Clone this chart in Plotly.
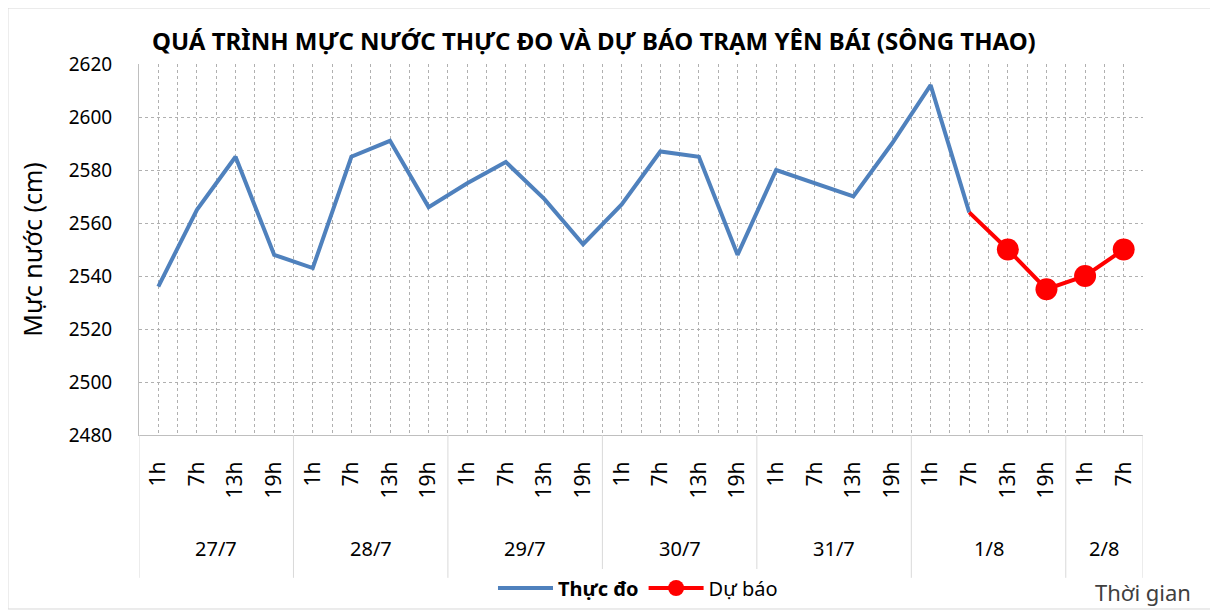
import plotly.graph_objects as go

dates = ["27/7", "28/7", "29/7", "30/7", "31/7", "1/8", "2/8"]
hours_per_date = [["1h", "7h", "13h", "19h"]] * 6 + [["1h", "7h"]]
hour_labels = [h for hs in hours_per_date for h in hs]

observed = [2536, 2565, 2585, 2548,
            2543, 2585, 2591, 2566,
            2575, 2583, 2569, 2552,
            2567, 2587, 2585, 2548,
            2580, 2575, 2570, 2590,
            2612, 2564]
forecast = [2564, 2550, 2535, 2540, 2550]
forecast_start = 21

FONT = "Noto Sans"
x_all = list(range(len(hour_labels)))

fig = go.Figure()
fig.add_trace(go.Scatter(
    x=x_all[:len(observed)], y=observed, mode="lines", name="<b>Thực đo</b>",
    line=dict(color="#4f81bd", width=4),
))
fx = x_all[forecast_start:forecast_start + len(forecast)]
fig.add_trace(go.Scatter(
    x=fx, y=forecast, mode="lines+markers", name="Dự báo",
    line=dict(color="#ff0000", width=4),
    marker=dict(color="#ff0000", opacity=1, line=dict(width=0, color="#ff0000"),
                size=[0] + [22] * (len(forecast) - 1)),
))

# group separators and date labels
bounds = [-0.5]
for hs in hours_per_date:
    bounds.append(bounds[-1] + len(hs))
shapes = []
for b in bounds:
    shapes.append(dict(type="line", xref="x", yref="paper", x0=b, x1=b, y0=0, y1=-0.385,
                       line=dict(color="#d9d9d9", width=1)))
# outer chart border
shapes.append(dict(type="rect", xref="paper", yref="paper", x0=-0.1305, x1=1.0687, y0=-0.469, y1=1.1509,
                   line=dict(color="#d9d9d9", width=1), layer="below"))
annotations = []
for i, d in enumerate(dates):
    cx = (bounds[i] + bounds[i + 1]) / 2
    annotations.append(dict(x=cx, y=-0.307, xref="x", yref="paper", text=d, showarrow=False,
                            font=dict(family=FONT, size=20, color="#000000"),
                            xanchor="center", yanchor="middle"))
annotations.append(dict(x=1.0498, y=-0.423, xref="paper", yref="paper", text="Thời gian", showarrow=False,
                        font=dict(family=FONT, size=22, color="#404040"),
                        xanchor="right", yanchor="middle"))

fig.update_layout(
    width=1210, height=602,
    paper_bgcolor="white", plot_bgcolor="white",
    margin=dict(l=131, r=75, t=56, b=175, autoexpand=False),
    title=dict(text="<b>QUÁ TRÌNH MỰC NƯỚC THỰC ĐO VÀ DỰ BÁO TRẠM YÊN BÁI (SÔNG THAO)</b>",
               x=0.119, xanchor="left", y=0.9435, yanchor="middle",
               font=dict(family=FONT, size=24, color="#000000")),
    showlegend=True,
    legend=dict(orientation="h", x=0.497, xanchor="center", xref="paper",
                y=0.0365, yanchor="middle", yref="container",
                font=dict(family=FONT, size=20, color="#000000"),
                itemwidth=55, traceorder="normal"),
    shapes=shapes,
    annotations=annotations,
    xaxis=dict(
        range=[-0.5, len(hour_labels) - 0.5],
        tickmode="array", tickvals=x_all, ticktext=hour_labels, tickangle=-90,
        tickfont=dict(family=FONT, size=21, color="#000000"),
        ticks="", ticklabelstandoff=17,
        showgrid=True, gridcolor="#b0b0b0", griddash="dot", gridwidth=1,
        minor=dict(tickmode="linear", tick0=-0.5, dtick=0.5, showgrid=True,
                   gridcolor="#b0b0b0", griddash="dot", gridwidth=1),
        showline=True, linecolor="#bfbfbf", linewidth=1,
        zeroline=False, fixedrange=True, automargin=False,
    ),
    yaxis=dict(
        range=[2480, 2620], dtick=20, tick0=2480,
        tickfont=dict(family=FONT, size=19, color="#000000"),
        ticks="", ticklabelstandoff=22,
        showgrid=True, gridcolor="#b0b0b0", griddash="dot", gridwidth=1,
        showline=True, linecolor="#bfbfbf", linewidth=1,
        zeroline=False, automargin=False,
        title=dict(text="Mực nước (cm)", font=dict(family=FONT, size=25, color="#000000"), standoff=18),
    ),
)

fig.write_html("out.html")
